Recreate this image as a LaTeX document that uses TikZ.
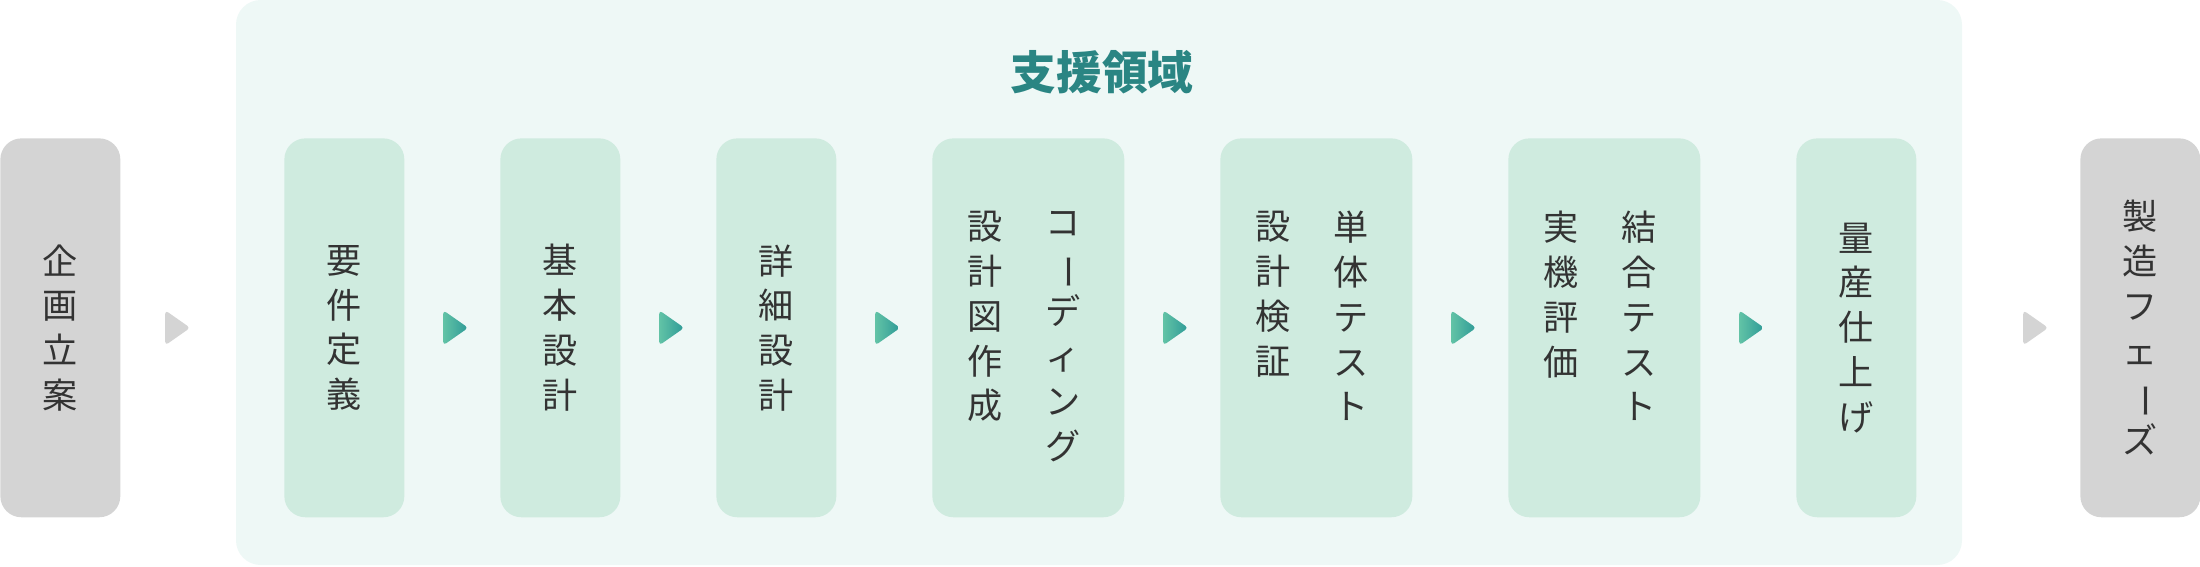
\documentclass[tikz,border=0pt]{standalone}
\usepackage{fontspec}
\newfontfamily\jpfont{Noto Sans CJK JP}
\usetikzlibrary{positioning,calc,shapes.geometric}
\definecolor{areabg}{HTML}{EEF8F6}
\definecolor{stepgreen}{HTML}{CFEBDF}
\definecolor{outgray}{HTML}{D4D4D4}
\definecolor{titleteal}{HTML}{2A8583}
\definecolor{textdark}{HTML}{333333}
\definecolor{tipleft}{HTML}{62C3A6}
\definecolor{tipright}{HTML}{2E9A97}
\newcommand{\vbar}{\rotatebox[origin=c]{-90}{ー}}
\begin{document}
\begin{tikzpicture}[
  x=0.02cm, y=-0.02cm,
  stepbox/.style={
    rectangle, rounded corners=12pt, fill=stepgreen, minimum height=7.58cm,
    minimum width=2.4cm, inner sep=0pt, anchor=north west
  },
  outbox/.style={stepbox, fill=outgray},
  vtext/.style={
    align=center, text=textdark, font=\jpfont\fontsize{20}{25.5}\selectfont
  },
  tip/.style={
    isosceles triangle, isosceles triangle apex angle=70, minimum width=0.6cm,
    minimum height=0.5cm, inner sep=0pt, rounded corners=2pt,
    shading=axis, left color=tipleft, right color=tipright, shading angle=90
  },
  graytip/.style={tip, left color=outgray, right color=outgray}
]
\useasboundingbox (0,0) rectangle (2200,566);
% support area
\fill[areabg, rounded corners=14pt] (236,0) rectangle (1962,565);
\node (title) [font=\jpfont\bfseries\fontsize{26}{26}\selectfont, text=titleteal]
  at (1102,72) {支援領域};

% outer phases
\node (plan) [outbox] at (0,138) {};
\node [vtext] at (plan.center) {企\\画\\立\\案};
\node (prod) [outbox] at (2080,138) {};
\node [vtext] at (prod.center) {製\\造\\フ\\ェ\\\vbar\\ズ};

% steps
\node (req) [stepbox] at (284,138) {};
\node [vtext] at (req.center) {要\\件\\定\\義};
\node (basic) [stepbox] at (500,138) {};
\node [vtext] at (basic.center) {基\\本\\設\\計};
\node (detail) [stepbox] at (716,138) {};
\node [vtext] at (detail.center) {詳\\細\\設\\計};
\node (code) [stepbox, minimum width=3.84cm] at (932,138) {};
\node [vtext, anchor=north] at (1063,205) {コ\\\vbar\\デ\\ィ\\ン\\グ};
\node [vtext, anchor=north] at (985,205) {設\\計\\図\\作\\成};
\node (unit) [stepbox, minimum width=3.84cm] at (1220,138) {};
\node [vtext, anchor=north] at (1351,205) {単\\体\\テ\\ス\\ト};
\node [vtext, anchor=north] at (1273,205) {設\\計\\検\\証};
\node (integ) [stepbox, minimum width=3.84cm] at (1508,138) {};
\node [vtext, anchor=north] at (1639,205) {結\\合\\テ\\ス\\ト};
\node [vtext, anchor=north] at (1561,205) {実\\機\\評\\価};
\node (final) [stepbox] at (1796,138) {};
\node [vtext] at (final.center) {量\\産\\仕\\上\\げ};

% flow marks
\node (t0) [graytip] at ($(plan.east)!0.5!(req.west)+(-28,0)$) {};
\node (t1) [tip] at ($(req.east)!0.5!(basic.west)$) {};
\node (t2) [tip] at ($(basic.east)!0.5!(detail.west)$) {};
\node (t3) [tip] at ($(detail.east)!0.5!(code.west)$) {};
\node (t4) [tip] at ($(code.east)!0.5!(unit.west)$) {};
\node (t5) [tip] at ($(unit.east)!0.5!(integ.west)$) {};
\node (t6) [tip] at ($(integ.east)!0.5!(final.west)$) {};
\node (t7) [graytip] at ($(final.east)!0.5!(prod.west)+(34,0)$) {};
\end{tikzpicture}
\end{document}
